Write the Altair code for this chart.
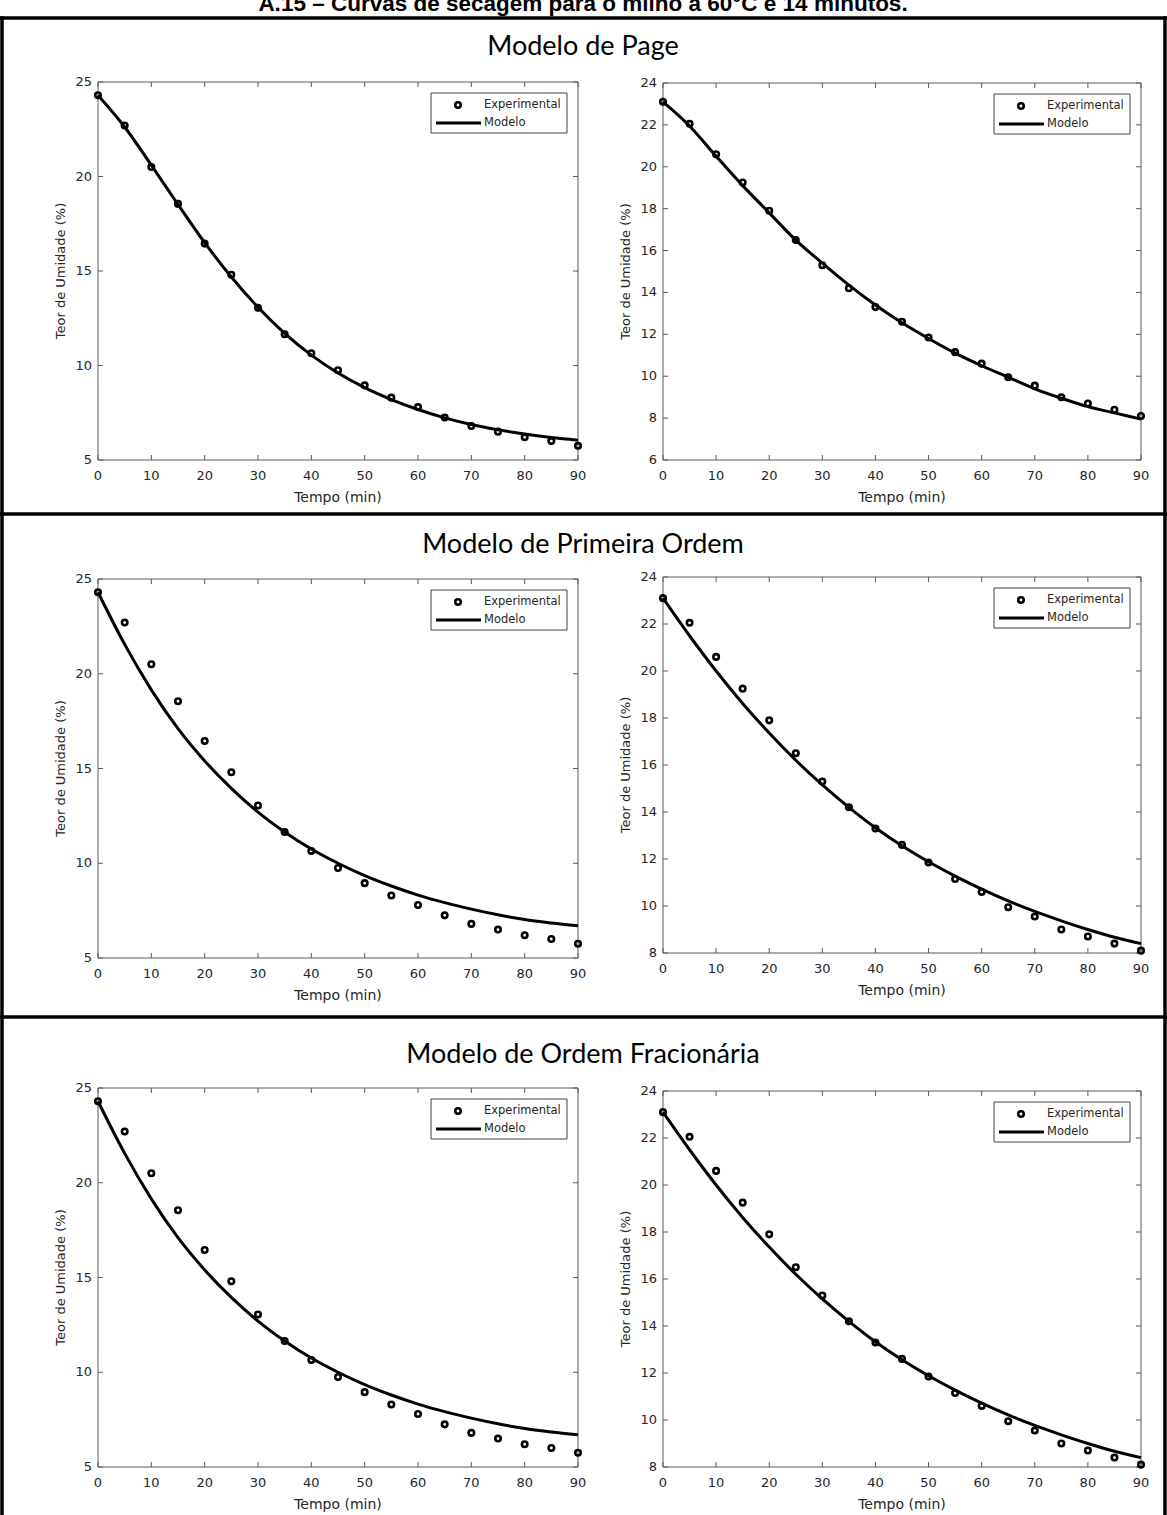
import altair as alt
import pandas as pd

# Drying time (min)
tempo = [0, 5, 10, 15, 20, 25, 30, 35, 40, 45, 50, 55, 60, 65, 70, 75, 80, 85, 90]

# Experimental moisture content (%) - left and right samples
exp_esq = [24.3, 22.7, 20.5, 18.55, 16.45, 14.8, 13.05, 11.65, 10.65, 9.75,
           8.95, 8.3, 7.8, 7.25, 6.8, 6.5, 6.2, 6.0, 5.75]
exp_dir = [23.1, 22.05, 20.6, 19.25, 17.9, 16.5, 15.3, 14.2, 13.3, 12.6,
           11.85, 11.15, 10.6, 9.95, 9.55, 9.0, 8.7, 8.4, 8.1]

# Fitted model curves (%)
page_esq = [24.3, 22.62, 20.6, 18.52, 16.5, 14.68, 13.08, 11.7, 10.55, 9.6,
            8.83, 8.2, 7.67, 7.23, 6.88, 6.6, 6.37, 6.19, 6.05]
page_dir = [23.1, 21.95, 20.5, 19.1, 17.8, 16.5, 15.4, 14.35, 13.4, 12.55,
            11.8, 11.1, 10.5, 9.95, 9.4, 8.95, 8.55, 8.25, 7.95]
prim_esq = [24.3, 21.55, 19.15, 17.1, 15.4, 13.95, 12.7, 11.65, 10.75, 10.0,
            9.35, 8.8, 8.32, 7.92, 7.58, 7.28, 7.03, 6.85, 6.7]
prim_dir = [23.1, 21.5, 20.0, 18.62, 17.36, 16.2, 15.15, 14.2, 13.33, 12.56,
            11.88, 11.27, 10.72, 10.22, 9.77, 9.37, 9.0, 8.67, 8.4]
frac_esq = [24.3, 21.55, 19.15, 17.1, 15.4, 13.95, 12.7, 11.65, 10.75, 10.0,
            9.35, 8.8, 8.32, 7.92, 7.58, 7.28, 7.03, 6.85, 6.7]
frac_dir = [23.1, 21.5, 20.0, 18.62, 17.36, 16.2, 15.15, 14.2, 13.33, 12.56,
            11.88, 11.27, 10.72, 10.22, 9.77, 9.37, 9.0, 8.67, 8.4]

# Tick labels
x_vals = [0, 10, 20, 30, 40, 50, 60, 70, 80, 90]
y_vals_25 = [5, 10, 15, 20, 25]
y_vals_24a = [6, 8, 10, 12, 14, 16, 18, 20, 22, 24]
y_vals_24b = [8, 10, 12, 14, 16, 18, 20, 22, 24]

titulo = "A.15 – Curvas de secagem para o milho a 60°C e 14 minutos."
secoes = ["Modelo de Page", "Modelo de Primeira Ordem", "Modelo de Ordem Fracionária"]

GRAY = "#5a5a5a"
TXT = "#262626"
FONT = "DejaVu Sans"
ONE = pd.DataFrame({"k": [0]})

WIDTH, HEIGHT = 1167, 1515


def texto(s, x, y, size, font=FONT, weight="normal", align="left",
          baseline="middle", color=TXT, angle=0):
    return alt.Chart(ONE).mark_text(
        text=s, font=font, fontSize=size, fontWeight=weight, align=align,
        baseline=baseline, color=color, angle=angle,
    ).encode(x=alt.value(x), y=alt.value(y))


def linha(x1, x2, y1, y2, width=3.5, color="black"):
    return alt.Chart(ONE).mark_rule(color=color, strokeWidth=width).encode(
        x=alt.value(x1), x2=alt.value(x2), y=alt.value(y1), y2=alt.value(y2)
    )


def marcador():
    return dict(shape="circle", filled=False, color="black", strokeWidth=2.6,
                size=30, opacity=1)


def painel(exp, modelo, y_dom, y_vals, x0, x1, y0, y1):
    """One MATLAB-style axes box; x0..x1 / y0..y1 is its plot area on the page."""
    df = pd.DataFrame({"tempo": tempo, "exp": exp, "modelo": modelo})
    xs = alt.Scale(domain=[0, 90], range=[x0, x1], nice=False, zero=False)
    ys = alt.Scale(domain=y_dom, range=[y1, y0], nice=False, zero=False)

    def X(f):
        return alt.X(f, type="quantitative", scale=xs, axis=None)

    def Y(f):
        return alt.Y(f, type="quantitative", scale=ys, axis=None)

    xt = pd.DataFrame({"v": x_vals})
    yt = pd.DataFrame({"v": y_vals})
    tk = dict(color=GRAY, strokeWidth=1)

    caixa = alt.Chart(ONE).mark_rect(fill="white", stroke=GRAY, strokeWidth=1).encode(
        x=alt.value(x0), x2=alt.value(x1), y=alt.value(y0), y2=alt.value(y1))
    # inward ticks on all four sides
    t_bot = alt.Chart(xt).mark_rule(**tk).encode(x=X("v"), y=alt.value(y1), y2=alt.value(y1 - 5))
    t_top = alt.Chart(xt).mark_rule(**tk).encode(x=X("v"), y=alt.value(y0), y2=alt.value(y0 + 5))
    t_lft = alt.Chart(yt).mark_rule(**tk).encode(y=Y("v"), x=alt.value(x0), x2=alt.value(x0 + 5))
    t_rgt = alt.Chart(yt).mark_rule(**tk).encode(y=Y("v"), x=alt.value(x1 - 5), x2=alt.value(x1))
    # tick labels and axis titles
    l_x = alt.Chart(xt).mark_text(font=FONT, fontSize=13, color=TXT, baseline="top",
                                  align="center").encode(
        x=X("v"), y=alt.value(y1 + 10), text=alt.Text("v:Q"))
    l_y = alt.Chart(yt).mark_text(font=FONT, fontSize=13, color=TXT, baseline="middle",
                                  align="right").encode(
        y=Y("v"), x=alt.value(x0 - 6), text=alt.Text("v:Q"))
    tit_x = texto("Tempo (min)", (x0 + x1) / 2, y1 + 38, 14, align="center")
    tit_y = texto("Teor de Umidade (%)", x0 - 37, (y0 + y1) / 2, 13, align="center", angle=270)

    curva = alt.Chart(df).mark_line(color="black", strokeWidth=3, interpolate="monotone").encode(
        x=X("tempo"), y=Y("modelo"))
    pontos = alt.Chart(df).mark_point(**marcador()).encode(x=X("tempo"), y=Y("exp"))

    # legend box in the upper right corner
    lx0, lt = x1 - 147, y0 + 11
    leg = alt.Chart(ONE).mark_rect(fill="white", stroke="#404040", strokeWidth=1).encode(
        x=alt.value(lx0), x2=alt.value(x1 - 11), y=alt.value(lt), y2=alt.value(lt + 40))
    simb = alt.Chart(ONE).mark_point(**marcador()).encode(
        x=alt.value(lx0 + 27), y=alt.value(lt + 12))
    traco = linha(lx0 + 5, lx0 + 50, lt + 30, lt + 30, width=3)
    e1 = texto("Experimental", lx0 + 53, lt + 12, 11.5)
    e2 = texto("Modelo", lx0 + 53, lt + 30, 11.5)

    return [caixa, t_bot, t_top, t_lft, t_rgt, l_x, l_y, tit_x, tit_y,
            curva, pontos, leg, simb, traco, e1, e2]


camadas = []
camadas += painel(exp_esq, page_esq, [5, 25], y_vals_25, 98, 578, 82, 460)
camadas += painel(exp_dir, page_dir, [6, 24], y_vals_24a, 663, 1141, 83, 460)
camadas += painel(exp_esq, prim_esq, [5, 25], y_vals_25, 98, 578, 579, 958)
camadas += painel(exp_dir, prim_dir, [8, 24], y_vals_24b, 663, 1141, 577, 953)
camadas += painel(exp_esq, frac_esq, [5, 25], y_vals_25, 98, 578, 1088, 1467)
camadas += painel(exp_dir, frac_dir, [8, 24], y_vals_24b, 663, 1141, 1091, 1467)

# page heading, frame, separators and section headings
camadas += [
    texto(titulo, 583, 11, 22.5, font="Liberation Sans", weight="bold", align="center",
          baseline="alphabetic", color="black"),
    linha(0, WIDTH, 18, 18),
    linha(2, 2, 16.25, HEIGHT),
    linha(1165, 1165, 16.25, HEIGHT),
    linha(0, WIDTH, 514, 514),
    linha(0, WIDTH, 1017, 1017),
    texto(secoes[0], 583, 47, 27, font="Lato", align="center", color="black"),
    texto(secoes[1], 583, 545, 27, font="Lato", align="center", color="black"),
    texto(secoes[2], 583, 1055, 27, font="Lato", align="center", color="black"),
]

chart = alt.layer(*camadas).resolve_scale(
    x="independent", y="independent"
).properties(
    width=WIDTH, height=HEIGHT, padding=0, background="white",
    autosize=alt.AutoSizeParams(type="none"),
).configure_view(stroke=None)

chart.save("out.html", embed_options={"renderer": "svg", "actions": False})
